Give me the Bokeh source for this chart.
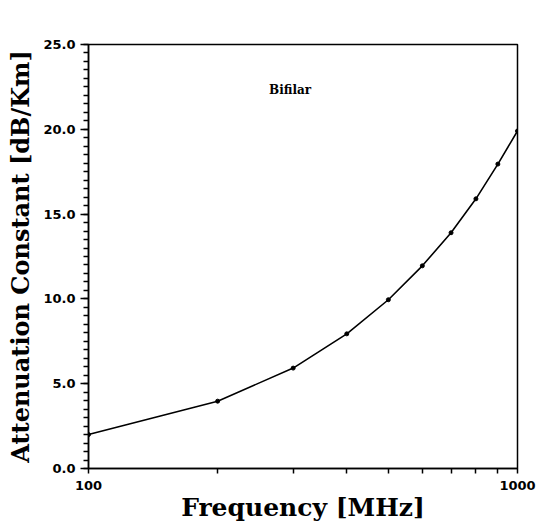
from bokeh.plotting import figure
from bokeh.models import Range1d, FixedTicker, PrintfTickFormatter, CustomJSTickFormatter, Label
from bokeh.embed import file_html
from bokeh.resources import INLINE

freq_mhz = [100, 200, 300, 400, 500, 600, 700, 800, 900, 1000]
atten_db_km = [2.0, 3.97, 5.92, 7.94, 9.95, 11.95, 13.9, 15.9, 17.95, 19.9]
x_ticks = [100, 200, 300, 400, 500, 600, 700, 800, 900, 1000]
x_labelled = [100, 1000]
y_major = [0, 5, 10, 15, 20, 25]
y_minor = [i * 0.5 for i in range(51)]

p = figure(width=536, height=528, x_axis_type="log",
           x_range=Range1d(100, 1000), y_range=Range1d(0, 25),
           output_backend="svg", toolbar_location=None,
           min_border_left=88, min_border_right=19,
           min_border_top=44, min_border_bottom=60)

p.grid.visible = False
p.background_fill_color = "white"
p.border_fill_color = "white"
p.outline_line_color = "black"
p.outline_line_width = 1.5

serif = "DejaVu Serif"
sans = "DejaVu Sans"

p.xaxis.ticker = FixedTicker(ticks=x_ticks)
p.xaxis.formatter = CustomJSTickFormatter(
    args=dict(shown=x_labelled),
    code="return shown.some(v => Math.abs(v - tick) < 1e-6) ? String(Math.round(tick)) : '';")
p.yaxis.ticker = FixedTicker(ticks=y_major, minor_ticks=y_minor)
p.yaxis.formatter = PrintfTickFormatter(format="%.1f")

for ax in (p.xaxis, p.yaxis):
    ax.axis_line_color = "black"
    ax.axis_line_width = 1.5
    ax.major_tick_line_color = "black"
    ax.minor_tick_line_color = "black"
    ax.major_tick_line_width = 1.5
    ax.minor_tick_line_width = 1.5
    ax.major_tick_in = 0
    ax.minor_tick_in = 0
    ax.major_label_text_font = sans
    ax.major_label_text_font_style = "bold"
    ax.major_label_text_font_size = "13px"
    ax.major_label_text_color = "black"
    ax.axis_label_text_font = serif
    ax.axis_label_text_font_style = "bold"
    ax.axis_label_text_color = "black"

p.xaxis.axis_label_text_font_size = "25px"
p.yaxis.axis_label_text_font_size = "24px"

p.xaxis.major_tick_out = 5
p.xaxis.minor_tick_out = 0
p.xaxis.major_label_standoff = 7
p.xaxis.axis_label_standoff = 0
p.yaxis.major_tick_out = 8
p.yaxis.minor_tick_out = 5
p.yaxis.major_label_standoff = 5
p.yaxis.axis_label_standoff = 5

p.xaxis.axis_label = "Frequency [MHz]"
p.yaxis.axis_label = "Attenuation Constant [dB/Km]"

p.line(freq_mhz, atten_db_km, line_color="black", line_width=1.6)
p.scatter(freq_mhz, atten_db_km, size=4, color="black")

p.add_layout(Label(x=295, y=22.3, text="Bifilar", text_font=serif,
                   text_font_style="bold", text_font_size="12px",
                   text_align="center", text_baseline="middle",
                   text_color="black"))

open("out.html", "w").write(file_html(p, INLINE))
